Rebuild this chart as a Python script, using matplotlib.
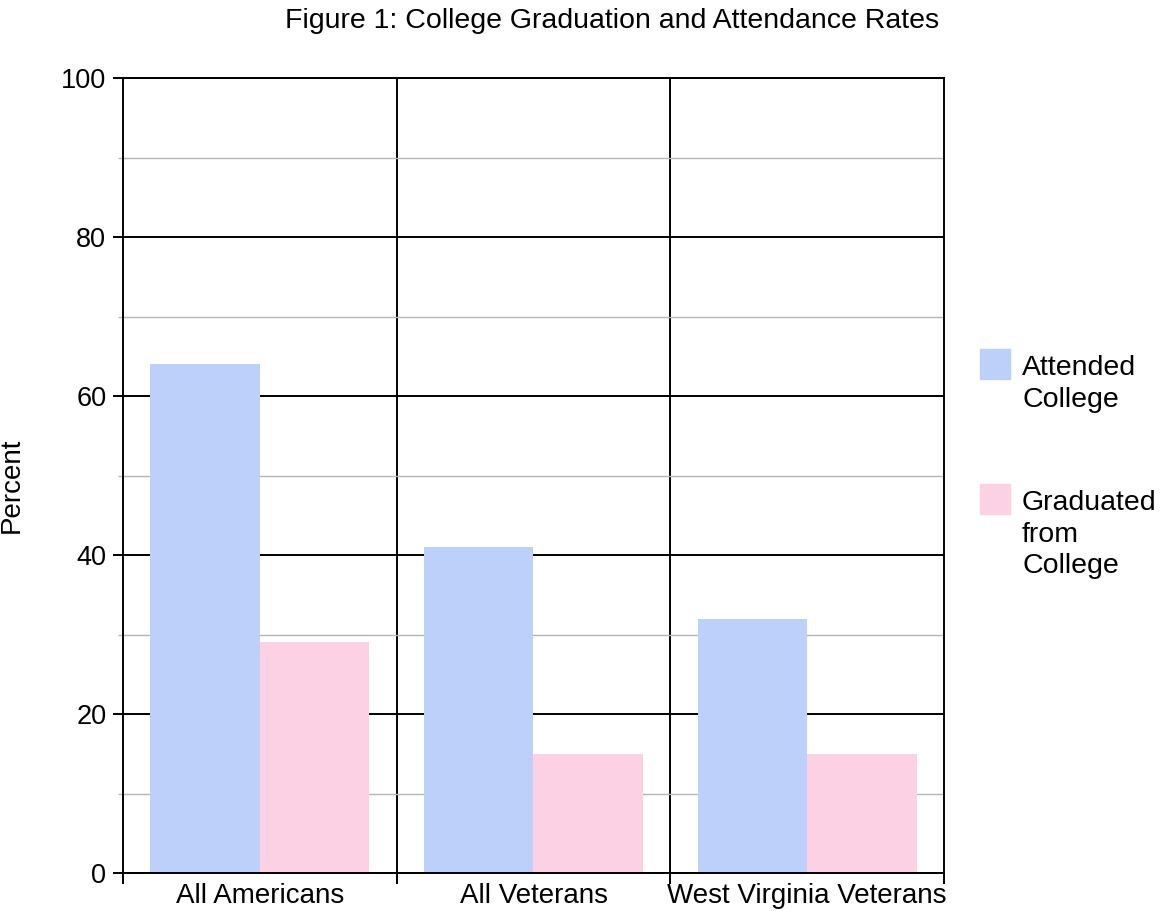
import matplotlib
matplotlib.use("Agg")
import matplotlib.pyplot as plt
from matplotlib.patches import Rectangle
import numpy as np

plt.rcParams['font.family'] = ['Liberation Sans', 'DejaVu Sans']

categories = ["All Americans", "All Veterans", "West Virginia Veterans"]
series_names = ["Attended\nCollege", "Graduated\nfrom\nCollege"]
attended = [64, 41, 32]
graduated = [29, 15, 15]
colors = ["#bdd0fa", "#fdd1e4"]
title = "Figure 1: College Graduation and Attendance Rates"
ylabel = "Percent"
yticks = [0, 20, 40, 60, 80, 100]

W, H = 1165, 911
fig = plt.figure(figsize=(W / 100, H / 100), dpi=100)
ax = fig.add_axes([123 / W, 1 - 873 / H, (944 - 123) / W, (873 - 78) / H])

x = np.arange(len(categories))
bw = 0.4
ax.bar(x - bw / 2, attended, width=bw, color=colors[0], zorder=3)
ax.bar(x + bw / 2, graduated, width=bw, color=colors[1], zorder=3)

ax.set_xlim(-0.5, len(categories) - 0.5)
ax.set_ylim(0, 100)

# y gridlines
ax.set_yticks(yticks)
ax.set_yticks([10, 30, 50, 70, 90], minor=True)
ax.yaxis.grid(True, which='major', color='black', lw=1.4, zorder=1)
ax.yaxis.grid(True, which='minor', color='#b5b5b5', lw=1.0, zorder=1)
ax.tick_params(axis='y', which='major', length=7, width=1.4, color='black',
               labelsize=19.5, pad=5)
ax.tick_params(axis='y', which='minor', length=3.5, width=1.0, color='#b5b5b5')

# x: boundaries as major ticks, categories as minor labels
bounds = np.arange(len(categories) + 1) - 0.5
ax.set_xticks(bounds)
ax.set_xticklabels([])
ax.set_xticks(x, minor=True)
ax.set_xticklabels(categories, minor=True)
ax.tick_params(axis='x', which='major', length=8, width=1.4, color='black')
ax.tick_params(axis='x', which='minor', length=0, labelsize=20, pad=7)
for b in bounds[1:-1]:
    ax.axvline(b, color='black', lw=1.4, zorder=1)

for s in ax.spines.values():
    s.set_linewidth(1.4)
    s.set_color('black')
    s.set_zorder(4)

ax.set_ylabel(ylabel, fontsize=20)
ax.yaxis.set_label_coords((25 - 123) / 821, (873 - 485) / 795)

fig.text(612 / W, 1 - 21 / H, title, ha='center', va='center', fontsize=20.5)

# legend (manual)
leg_tops = [349, 484]
text_tops = [355, 490]
for name, col, top, tt in zip(series_names, colors, leg_tops, text_tops):
    fig.patches.append(Rectangle((980 / W, 1 - (top + 30) / H), 30 / W, 30 / H,
                                 transform=fig.transFigure, color=col))
    fig.text(1022 / W, 1 - tt / H, name, ha='left', va='top',
             fontsize=20.5, linespacing=1.28)

fig.savefig("out.png", dpi=100)
